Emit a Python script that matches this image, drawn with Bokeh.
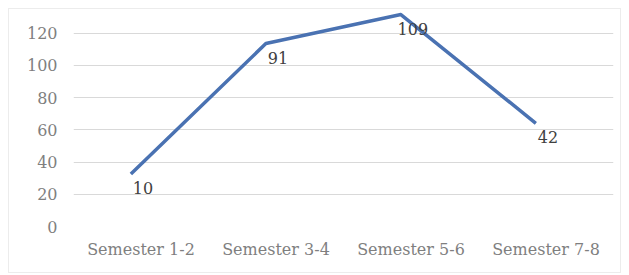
from bokeh.plotting import figure
from bokeh.models import Range1d, SingleIntervalTicker, ColumnDataSource
from bokeh.core.properties import value
from bokeh.transform import dodge
from bokeh.embed import file_html
from bokeh.resources import INLINE

categories = ["Semester 1-2", "Semester 3-4", "Semester 5-6", "Semester 7-8"]
line_values = [32.5, 113.5, 131.5, 64]
label_texts = ["10", "91", "109", "42"]

src = ColumnDataSource(dict(x=categories, y=line_values, t=label_texts))

p = figure(width=613, height=265, x_range=categories, y_range=Range1d(0, 134),
           output_backend="svg", toolbar_location=None,
           min_border_left=64, min_border_right=9, min_border_top=1, min_border_bottom=48)
p.outline_line_color = None
p.background_fill_color = "white"
p.border_fill_color = "white"
p.styles = {"margin-left": "8px", "margin-top": "8px", "border": "1px solid #ececec", "box-sizing": "border-box"}

xs = dodge("x", -0.075, range=p.x_range)
p.line(x=xs, y="y", source=src, line_color="#4a72b2", line_width=3.5, line_join="round")
p.text(x=xs, y="y", text="t", source=src, x_offset=12, y_offset=14,
       text_align="center", text_baseline="middle",
       text_font=value("DejaVu Serif"), text_font_size="16px", text_color="#404040")

p.yaxis.ticker = SingleIntervalTicker(interval=20)
p.ygrid.ticker = SingleIntervalTicker(interval=20)
p.ygrid.grid_line_color = "#d9d9d9"
p.ygrid.grid_line_width = 1
p.xgrid.grid_line_color = None

for ax in (p.xaxis, p.yaxis):
    ax.axis_line_color = None
    ax.major_tick_line_color = None
    ax.minor_tick_line_color = None
    ax.major_label_text_font = "DejaVu Serif"
    ax.major_label_text_font_size = "16px"
    ax.major_label_text_color = "#7f7f7f"

p.yaxis.major_label_standoff = 10
p.xaxis.major_label_standoff = 7

open("out.html", "w").write(file_html(p, INLINE))
